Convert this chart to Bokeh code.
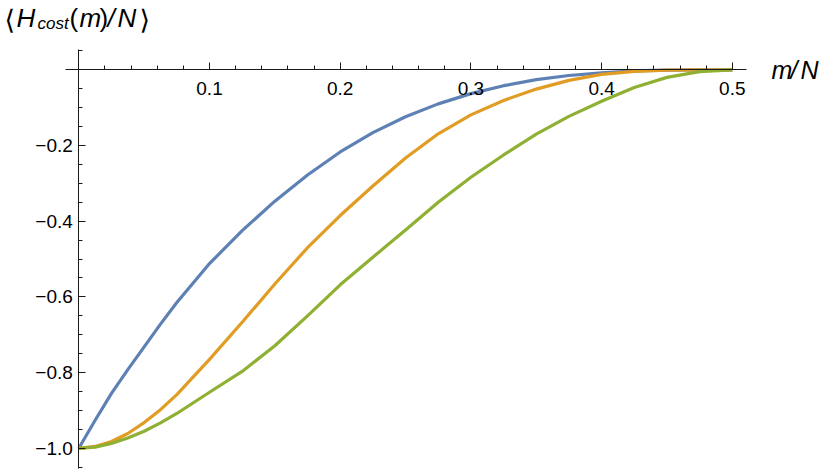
from bokeh.plotting import figure
from bokeh.models import LinearAxis, FixedTicker, CustomJSTickFormatter, Label, Range1d
from bokeh.embed import file_html
from bokeh.resources import INLINE

# ---- data ----
m_over_n = [0.0, 0.0125, 0.025, 0.0375, 0.05, 0.0625, 0.075, 0.1, 0.125, 0.15, 0.175, 0.2, 0.225, 0.25,
            0.275, 0.3, 0.325, 0.35, 0.375, 0.4, 0.425, 0.45, 0.475, 0.5]
blue_vals = [-1.0, -0.926, -0.855, -0.792, -0.732, -0.672, -0.615, -0.512, -0.425, -0.347, -0.278,
             -0.217, -0.166, -0.124, -0.090, -0.063, -0.042, -0.026, -0.015, -0.008, -0.003,
             -0.001, 0.0, 0.0]
orange_vals = [-1.0, -0.995, -0.982, -0.961, -0.932, -0.898, -0.858, -0.765, -0.667, -0.566, -0.470,
               -0.385, -0.307, -0.233, -0.169, -0.119, -0.081, -0.051, -0.028, -0.012, -0.004,
               -0.001, 0.0, 0.0]
green_vals = [-1.0, -0.997, -0.987, -0.973, -0.955, -0.933, -0.908, -0.852, -0.797, -0.729, -0.650,
              -0.568, -0.495, -0.423, -0.350, -0.284, -0.225, -0.170, -0.123, -0.083, -0.047,
              -0.020, -0.005, 0.0]

x_major = [0.1, 0.2, 0.3, 0.4, 0.5]
x_minor = [0.02, 0.04, 0.06, 0.08, 0.12, 0.14, 0.16, 0.18, 0.22, 0.24, 0.26, 0.28,
           0.32, 0.34, 0.36, 0.38, 0.42, 0.44, 0.46, 0.48]
y_major = [-1.0, -0.8, -0.6, -0.4, -0.2]
y_minor = [-1.05, -0.95, -0.9, -0.85, -0.75, -0.7, -0.65, -0.55, -0.5, -0.45, -0.35, -0.3,
           -0.25, -0.15, -0.1, -0.05, 0.05]

BLUE, ORANGE, GREEN = "#5E81B5", "#E19C24", "#8FB032"
FONT = "Liberation Sans"

# ---- layout: frame fills the whole canvas ----
W, H = 830, 470
OX, OY = 78.3, 69.3          # canvas pixel of the data origin
SX, SY = 1307.0, 378.5       # pixels per data unit
X0, X1 = -OX / SX, (W - OX) / SX
Y1, Y0 = OY / SY, (OY - H) / SY

p = figure(width=W, height=H, output_backend="svg", toolbar_location=None,
           x_range=Range1d(X0, X1), y_range=Range1d(Y0, Y1),
           x_axis_location=None, y_axis_location=None, min_border=0)
p.outline_line_color = None
p.grid.visible = False
p.background_fill_color = "white"
p.border_fill_color = "white"

fmt = CustomJSTickFormatter(code="return tick.toFixed(1).replace('-', '\u2212');")

AX = "#1a1a1a"
xaxis = LinearAxis(fixed_location=0, bounds=(-0.0102, 0.511),
                   ticker=FixedTicker(ticks=x_major, minor_ticks=x_minor),
                   formatter=fmt, major_tick_in=7, major_tick_out=0, minor_tick_in=4, minor_tick_out=0,
                   major_label_standoff=12, major_label_text_font=FONT,
                   major_label_text_font_size="19px", major_label_text_color="black",
                   axis_line_color=AX, major_tick_line_color=AX, minor_tick_line_color=AX)
yaxis = LinearAxis(fixed_location=0, bounds=(-1.053, 0.0536),
                   ticker=FixedTicker(ticks=y_major, minor_ticks=y_minor),
                   formatter=fmt, major_tick_in=7, major_tick_out=0, minor_tick_in=4, minor_tick_out=0,
                   major_label_standoff=6, major_label_text_font=FONT,
                   major_label_text_font_size="19px", major_label_text_color="black",
                   axis_line_color=AX, major_tick_line_color=AX, minor_tick_line_color=AX)
p.add_layout(xaxis, "below")
p.add_layout(yaxis, "left")

p.line(m_over_n, blue_vals, line_color=BLUE, line_width=3.2, line_join="round")
p.line(m_over_n, orange_vals, line_color=ORANGE, line_width=3.2, line_join="round")
p.line(m_over_n, green_vals, line_color=GREEN, line_width=3.2, line_join="round")


def lab(text, px, py, size, style="italic", font=FONT):
    # px, py: canvas pixel position of the text origin (left, baseline)
    p.add_layout(Label(x=X0 + px / SX, y=Y1 - py / SY, text=text, text_font=font,
                       text_font_style=style, text_font_size=f"{size}px",
                       text_baseline="alphabetic", text_align="left", text_color="black"))


# y axis label: <H_cost(m)/N>
lab("\u27e8", 4, 19, 27, "normal", "DejaVu Sans")
lab("H", 16, 17, 26)
lab("cost", 37, 23, 17)
lab("(", 69, 17, 26, "normal")
lab("m", 79, 17, 26)
lab(")", 99, 17, 26, "normal")
lab("/", 107, 17, 26)
lab("N", 117, 17, 26)
lab("\u27e9", 139, 19, 27, "normal", "DejaVu Sans")

# x axis label: m/N
lab("m", 771, 69, 25)
lab("/", 790, 69, 25)
lab("N", 800, 69, 25)

open("out.html", "w").write(file_html(p, INLINE))
